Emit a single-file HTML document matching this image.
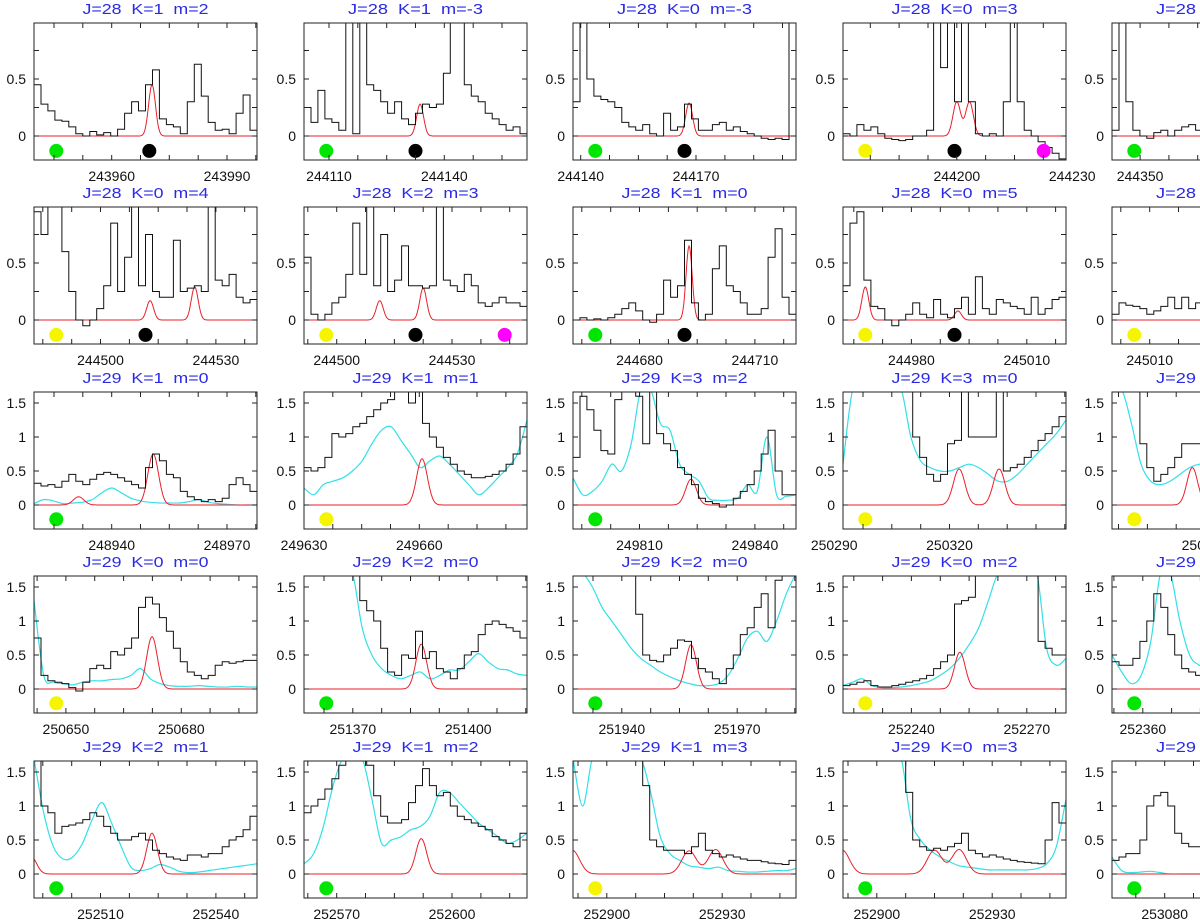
<!DOCTYPE html>
<html><head><meta charset="utf-8"><title>Spectra grid</title>
<style>
html,body{margin:0;padding:0;background:#fff;}
svg{display:block;font-family:"Liberation Sans",sans-serif;}
</style></head>
<body>
<svg id="chart" width="1200" height="922" viewBox="0 0 1200 922"></svg>
<script>
const titles=["J=28  K=1  m=2","J=28  K=1  m=-3","J=28  K=0  m=-3","J=28  K=0  m=3","J=28  K=0  m=-4",
"J=28  K=0  m=4","J=28  K=2  m=3","J=28  K=1  m=0","J=28  K=0  m=5","J=28  K=2  m=-3",
"J=29  K=1  m=0","J=29  K=1  m=1","J=29  K=3  m=2","J=29  K=3  m=0","J=29  K=3  m=-2",
"J=29  K=0  m=0","J=29  K=2  m=0","J=29  K=2  m=0","J=29  K=0  m=2","J=29  K=1  m=-1",
"J=29  K=2  m=1","J=29  K=1  m=2","J=29  K=1  m=3","J=29  K=0  m=3","J=29  K=0  m=-3"];
const xMin=[243939.8,244103.5,244138.0,244170.4,244342.7,
244482.7,244491.5,244662.7,244962.2,245000.2,
248919.8,249630.0,249792.7,250292.3,250325.8,
250641.7,251357.3,251927.3,252222.2,252352.0,
252492.7,252561.5,252891.2,252891.2,253066.3];
const span=58;
const xLabels=[[243960,243990],[244110,244140],[244140,244170],[244200,244230],[244350],
[244500,244530],[244500,244530],[244680,244710],[244980,245010],[245010],
[248940,248970],[249630,249660],[249810,249840],[250290,250320],[250350],
[250650,250680],[251370,251400],[251940,251970],[252240,252270],[252360],
[252510,252540],[252570,252600],[252900,252930],[252900,252930],[253080]];
const blackVals=[
[0.45,0.28,0.22,0.14,0.13,0.08,0.02,0.0,0.04,0.01,0.03,0.0,0.06,0.2,0.3,0.22,0.45,0.58,0.15,0.1,0.08,0.02,0.3,0.63,0.35,0.12,0.05,0.06,0.02,0.2,0.36,0.05],
[0.25,0.12,0.4,0.15,0.12,0.05,1.2,0.02,1.2,0.45,0.4,0.3,0.2,0.3,0.15,0.1,0.2,0.28,0.25,0.28,0.55,1.2,1.2,0.45,0.35,0.3,0.2,0.15,0.1,0.05,0.08,0.02],
[0.3,1.2,0.5,0.35,0.32,0.3,0.25,0.12,0.08,0.05,0.1,0.02,0.0,0.2,0.05,0.08,0.28,0.15,0.05,0.05,0.1,0.12,0.05,0.08,0.04,0.02,0.0,-0.02,-0.03,-0.02,-0.03,1.0],
[0.02,0.0,0.1,0.05,0.08,0.02,-0.02,-0.03,-0.04,-0.03,0.0,0.0,0.05,1.2,0.6,1.2,0.3,1.2,0.3,0.02,0.0,0.02,0.0,0.3,1.2,0.3,0.05,0.0,-0.05,-0.1,-0.15,-0.2],
[0.05,1.2,0.3,0.05,0.0,-0.02,0.03,0.05,0.0,0.05,0.08,0.1,0.05,0.1,0.08,0.12,0.1,0.08,0.1,0.12,0.1,0.08,0.1,0.12,0.1,0.08,0.1,0.12,0.1,0.08,0.1,0.1],
[0.95,0.75,1.2,1.2,0.6,0.25,0.0,-0.05,0.0,0.1,0.3,0.85,0.25,0.55,1.2,0.3,0.75,0.25,0.2,0.2,0.7,0.25,0.28,0.3,0.25,1.2,0.35,0.3,0.4,0.2,0.15,0.18],
[0.55,0.05,0.0,0.05,0.15,0.2,0.4,0.85,0.4,1.2,0.3,0.75,0.25,0.35,0.65,0.3,0.3,0.28,0.3,1.2,0.35,0.3,0.25,0.4,0.3,0.15,0.12,0.15,0.2,0.15,0.15,0.12],
[0.0,0.02,0.0,0.01,0.0,0.02,0.05,0.1,0.15,0.08,0.0,-0.02,0.05,0.35,0.2,0.3,0.7,0.15,0.0,0.05,0.45,0.65,0.3,0.25,0.15,0.05,0.05,0.1,0.55,0.8,0.2,0.05],
[0.3,0.85,0.95,0.35,0.12,0.1,0.0,-0.05,0.0,0.05,0.15,0.05,0.02,0.18,0.05,0.02,0.1,0.2,0.05,0.38,0.1,0.05,0.18,0.15,0.12,0.1,0.05,0.2,0.05,0.1,0.18,0.2],
[0.05,0.15,0.13,0.12,0.1,0.05,0.08,0.12,0.2,0.1,0.2,0.1,0.15,0.1,0.12,0.1,0.15,0.1,0.12,0.1,0.1,0.12,0.1,0.1,0.12,0.1,0.1,0.12,0.1,0.1,0.1,0.1],
[0.32,0.28,0.3,0.26,0.35,0.45,0.35,0.3,0.38,0.45,0.48,0.45,0.4,0.35,0.3,0.25,0.55,0.75,0.65,0.45,0.4,0.2,0.12,0.08,0.05,0.08,0.05,0.1,0.3,0.4,0.3,0.2],
[0.55,0.5,0.55,0.7,1.05,1.0,1.05,1.15,1.2,1.3,1.4,1.5,1.55,1.7,1.7,1.5,1.7,1.2,1.0,0.85,0.7,0.6,0.5,0.45,0.4,0.4,0.42,0.45,0.5,0.6,0.75,1.15],
[0.7,1.6,1.4,1.1,0.8,0.75,1.55,1.7,1.7,1.6,0.9,1.7,1.05,0.9,0.8,0.55,0.45,0.3,0.1,0.05,0.02,-0.03,0.0,0.1,0.2,0.3,0.5,0.75,1.1,0.5,0.15,0.15],
[1.7,1.7,1.7,1.7,1.7,1.7,1.7,1.7,1.7,1.7,1.0,0.7,0.45,0.35,0.45,0.9,0.95,1.7,1.0,1.0,1.0,1.0,1.7,0.5,0.55,0.6,0.7,0.8,0.95,1.05,1.15,1.3],
[1.7,1.7,1.7,1.7,0.9,0.55,0.35,0.45,0.55,0.7,0.9,0.9,0.9,0.9,0.9,0.9,0.9,0.9,0.9,0.9,0.9,0.9,0.9,0.9,0.9,0.9,0.9,0.9,0.9,0.9,0.9,0.9],
[0.75,0.2,0.12,0.1,0.08,0.02,-0.03,0.1,0.3,0.35,0.3,0.55,0.5,0.6,0.75,1.2,1.35,1.25,1.05,0.85,0.6,0.4,0.25,0.2,0.15,0.2,0.35,0.4,0.38,0.4,0.42,0.42],
[1.7,1.7,1.7,1.7,1.7,1.7,1.7,1.7,1.3,1.15,1.0,0.6,0.25,0.2,0.5,0.45,0.85,0.45,0.55,0.3,0.25,0.15,0.3,0.5,0.55,0.8,0.95,1.0,0.95,0.9,0.85,0.75],
[1.7,1.7,1.7,1.7,1.7,1.7,1.7,1.7,1.7,1.1,0.5,0.42,0.4,0.5,0.6,0.72,0.7,0.45,0.3,0.25,0.15,0.08,0.3,0.5,0.8,0.9,1.2,1.4,0.9,1.6,1.7,1.7],
[0.05,0.07,0.1,0.12,0.05,0.03,0.03,0.05,0.07,0.1,0.12,0.15,0.2,0.3,0.4,0.5,1.25,1.3,1.35,1.7,1.7,1.7,1.7,1.7,1.7,1.7,1.7,1.7,0.7,0.6,0.5,0.5],
[0.4,0.35,0.35,0.45,0.7,1.0,1.4,1.2,0.8,0.5,0.3,0.25,0.2,0.2,0.2,0.2,0.2,0.2,0.2,0.2,0.2,0.2,0.2,0.2,0.2,0.2,0.2,0.2,0.2,0.2,0.2,0.2],
[1.7,1.0,0.9,0.6,0.7,0.72,0.75,0.8,0.9,0.85,0.7,0.6,0.5,0.5,0.55,0.6,0.5,0.35,0.3,0.25,0.22,0.2,0.28,0.28,0.25,0.3,0.3,0.4,0.5,0.55,0.65,0.85],
[0.9,1.0,1.1,1.25,1.4,1.6,1.7,1.7,1.7,1.6,1.15,0.85,0.75,0.75,0.8,1.05,1.3,1.55,1.3,1.15,1.2,1.0,0.85,0.8,0.75,0.7,0.65,0.55,0.5,0.45,0.4,0.6],
[1.7,1.7,1.7,1.7,1.7,1.7,1.7,1.7,1.7,1.7,1.3,0.5,0.4,0.35,0.35,0.35,0.3,0.4,0.6,0.35,0.3,0.25,0.28,0.25,0.22,0.2,0.2,0.18,0.16,0.15,0.14,0.2],
[1.7,1.7,1.7,1.7,1.7,1.7,1.7,1.7,1.7,1.2,0.5,0.4,0.35,0.38,0.35,0.4,0.45,0.6,0.35,0.3,0.25,0.28,0.25,0.22,0.2,0.18,0.17,0.16,0.15,0.5,1.05,0.75],
[0.2,0.25,0.3,0.3,0.5,1.0,1.15,1.2,1.0,0.6,0.45,0.4,0.4,0.4,0.4,0.4,0.4,0.4,0.4,0.4,0.4,0.4,0.4,0.4,0.4,0.4,0.4,0.4,0.4,0.4,0.4,0.4]
];
const redCenters=[[243970.5],[244133.7],[244168.2],[244200.0,244203.3],[],
[244512.9,244524.5],[244511.2,244522.5],[244692.9],[244968.0,244992.1],[],
[248931.4,248950.8],[249660.7],[249823.4],[250322.5,250332.9],[250346.7],
[250672.4],[251387.8],[251958.0],[252252.6],[],
[252492.0,252523.4],[252592.0],[252891.0,252921.4,252928.3],[252891.0,252915.0,252921.4],[]];
const redAmps=[[0.45],[0.28],[0.29],[0.3,0.3],[],
[0.17,0.29],[0.17,0.28],[0.65],[0.29,0.08],[],
[0.12,0.75],[0.68],[0.38],[0.53,0.53],[0.55],
[0.77],[0.66],[0.65],[0.54],[],
[0.25,0.6],[0.52],[0.35,0.34,0.36],[0.35,0.35,0.36],[]];
const redSigma=[0.9,0.9,0.9,1.0,0.9, 0.9,0.9,0.8,0.9,0.9, 1.4,1.4,1.4,1.5,1.4, 1.4,1.4,1.4,1.4,1.4, 1.4,1.4,1.9,1.9,1.4];
const cyanVals=[null,null,null,null,null,null,null,null,null,null,
[0.02,0.08,0.06,0.02,0.03,0.04,0.08,0.18,0.25,0.18,0.1,0.06,0.04,0.03,0.03,0.03,0.05,0.08,0.04,0.02,0.01,0.0,0.0,0.0],
[0.25,0.15,0.3,0.35,0.4,0.5,0.65,0.9,1.1,1.15,0.95,0.75,0.55,0.65,0.72,0.6,0.45,0.3,0.15,0.25,0.4,0.55,0.75,1.25],
[0.4,0.15,0.2,0.35,0.6,0.5,0.9,1.7,1.7,1.2,1.1,0.6,0.45,0.35,0.1,0.07,0.07,0.1,0.3,0.2,1.0,0.15,0.13,0.15],
[0.6,1.7,1.7,1.7,1.7,1.7,1.7,1.0,0.65,0.55,0.5,0.5,0.55,0.6,0.55,0.45,0.35,0.35,0.45,0.6,0.75,0.9,1.05,1.25],
[1.7,1.7,1.2,0.6,0.35,0.3,0.35,0.45,0.55,0.6,0.6,0.6,0.6,0.6,0.6,0.6,0.6,0.6,0.6,0.6,0.6,0.6,0.6,0.6],
[1.3,0.2,0.1,0.08,0.06,0.1,0.12,0.12,0.14,0.15,0.2,0.3,0.15,0.08,0.05,0.04,0.04,0.05,0.04,0.03,0.03,0.04,0.03,0.03],
[1.7,1.7,1.7,1.7,1.7,1.7,0.9,0.5,0.3,0.2,0.15,0.2,0.25,0.15,0.2,0.28,0.28,0.4,0.52,0.4,0.3,0.28,0.22,0.2],
[1.7,1.7,1.5,1.2,1.0,0.8,0.6,0.45,0.35,0.25,0.18,0.12,0.08,0.05,0.05,0.08,0.2,0.45,0.75,0.85,0.7,1.0,1.4,1.7],
[0.05,0.1,0.15,0.05,0.02,0.02,0.03,0.05,0.08,0.12,0.2,0.3,0.45,0.65,0.9,1.3,1.7,1.7,1.7,1.7,1.7,0.6,0.35,0.45],
[0.5,0.25,0.08,0.2,0.7,1.7,1.7,1.0,0.5,0.35,0.3,0.3,0.3,0.3,0.3,0.3,0.3,0.3,0.3,0.3,0.3,0.3,0.3,0.3],
[1.7,0.9,0.4,0.22,0.25,0.45,0.8,1.05,0.75,0.4,0.1,0.05,0.08,0.14,0.1,0.04,0.02,0.03,0.05,0.07,0.09,0.11,0.13,0.15],
[0.15,0.3,0.7,1.3,1.7,1.7,1.7,1.1,0.45,0.5,0.55,0.65,0.7,0.85,1.2,1.2,1.05,0.9,0.75,0.65,0.55,0.45,0.5,0.6],
[1.7,1.0,1.7,1.7,1.7,1.7,1.7,1.7,1.2,0.55,0.3,0.2,0.12,0.1,0.08,0.1,0.05,0.04,0.03,0.03,0.04,0.05,0.05,0.08],
[1.7,1.7,1.7,1.7,1.7,1.7,1.7,0.8,0.5,0.35,0.25,0.18,0.12,0.1,0.08,0.06,0.06,0.06,0.06,0.06,0.08,0.15,0.4,1.1],
[0.25,0.05,0.02,0.03,0.04,0.02,0.0,0.0,0.0,0.0,0.0,0.0,0.0,0.0,0.0,0.0,0.0,0.0,0.0,0.0,0.0,0.0,0.0,0.0]];
const dotFreqs=[[243945.6,243969.8],[244109.3,244132.5],[244143.8,244167.0],[244176.2,244199.4,244222.6],[244348.5],
[244488.5,244511.7],[244497.3,244520.5,244543.7],[244668.5,244691.7],[244968.0,244991.2],[245006.0],
[248925.6],[249635.8],[249798.5],[250298.1],[250331.6],
[250647.5],[251363.1],[251933.1],[252228.0],[252357.8],
[252498.5],[252567.3],[252897.0],[252897.0],[253072.1]];
const dotColors=[["#00e600","#000"],["#00e600","#000"],["#00e600","#000"],["#f5f500","#000","#ff00ff"],["#00e600"],
["#f5f500","#000"],["#f5f500","#000","#ff00ff"],["#00e600","#000"],["#f5f500","#000"],["#f5f500"],
["#00e600"],["#f5f500"],["#00e600"],["#f5f500"],["#f5f500"],
["#f5f500"],["#00e600"],["#00e600"],["#f5f500"],["#00e600"],
["#00e600"],["#00e600"],["#f5f500"],["#00e600"],["#00e600"]];

const NS="http://www.w3.org/2000/svg";
const svg=document.getElementById('chart');
const colLeft=[34,304,573,843,1112], rowTop=[23,207,392,576,761];
const W=223,H=137;
function mk(tag,attrs,parent){const e=document.createElementNS(NS,tag);for(const k in attrs)e.setAttribute(k,attrs[k]);parent.appendChild(e);return e;}

for(let p=0;p<25;p++){
  const r=Math.floor(p/5), c=p%5;
  const L=colLeft[c], T=rowTop[r];
  const big=r>=2;
  const yLo=big?-0.353:-0.21, yHi=big?1.662:0.991;
  const x0=xMin[p], x1=xMin[p]+span;
  const X=v=>L+(v-x0)/(x1-x0)*W;
  const Y=v=>T+H-(v-yLo)/(yHi-yLo)*H;
  const g=mk('g',{},svg);
  
  
  const cp=mk('clipPath',{id:'cp'+p},g);
  mk('rect',{x:L,y:T,width:W,height:H},cp);
  const t=mk('text',{x:L+W/2,y:T-9,'text-anchor':'middle','font-size':'15',fill:'#2a2ae6',textLength:(titles[p].length*9).toString(),lengthAdjust:'spacingAndGlyphs',style:'white-space:pre'},g);
  
  
  t.textContent=titles[p];
  const dg=mk('g',{'clip-path':'url(#cp'+p+')'},g);
  
  
  if(cyanVals[p]){
    const cv=cyanVals[p], n=cv.length-1;
    const P=cv.map((v,k)=>[X(x0+k*span/n),Y(v)]);
    let d='M'+P[0][0].toFixed(1)+' '+P[0][1].toFixed(1);
    for(let k=0;k<n;k++){
      const p0=P[Math.max(0,k-1)],p1=P[k],p2=P[k+1],p3=P[Math.min(n,k+2)];
      const c1=[p1[0]+(p2[0]-p0[0])/6,p1[1]+(p2[1]-p0[1])/6];
      const c2=[p2[0]-(p3[0]-p1[0])/6,p2[1]-(p3[1]-p1[1])/6];
      d+='C'+c1[0].toFixed(1)+' '+c1[1].toFixed(1)+' '+c2[0].toFixed(1)+' '+c2[1].toFixed(1)+' '+p2[0].toFixed(1)+' '+p2[1].toFixed(1);
    }
    const cl=mk('path',{d:d,fill:'none',stroke:'#33e0e6','stroke-width':'1.2','stroke-linejoin':'round'},dg);
    
    
  }
  {
    let d='';
    for(let k=0;k<=300;k++){
      const f=x0+k*span/300;
      let v=0;
      redCenters[p].forEach((cen,j)=>{v+=redAmps[p][j]*Math.exp(-(f-cen)*(f-cen)/(2*redSigma[p]*redSigma[p]));});
      d+=(k?'L':'M')+X(f).toFixed(1)+' '+Y(v).toFixed(1);
    }
    const rl=mk('path',{d:d,fill:'none',stroke:'#e8202a','stroke-width':'1'},dg);
    
    
  }
  {
    const bv=blackVals[p], n=bv.length;
    let d='';
    bv.forEach((v,i)=>{
      const a=X(x0+i*span/n), b=X(x0+(i+1)*span/n), y=Y(v);
      d+=(i?'L':'M')+a.toFixed(1)+' '+y.toFixed(1)+'L'+b.toFixed(1)+' '+y.toFixed(1);
    });
    const bl=mk('path',{d:d,fill:'none',stroke:'#111','stroke-width':'1'},dg);
    
    
  }
  dotFreqs[p].forEach((f,j)=>{
    const dt=mk('circle',{cx:X(f).toFixed(1),cy:Y(big?-0.21:-0.13).toFixed(1),r:7,fill:dotColors[p][j]},g);
    
    
  });
  const fr=mk('rect',{x:L,y:T,width:W,height:H,fill:'none',stroke:'#222','stroke-width':'1'},g);
  
  
  let td='';
  const xs=Math.ceil(x0/7.5)*7.5;
  for(let f=xs;f<=x1;f+=7.5){const xx=X(f).toFixed(1);td+='M'+xx+' '+(T+H)+'v-5M'+xx+' '+T+'v5';}
  const ystep=big?0.5:0.25;
  for(let v=Math.ceil(yLo/ystep)*ystep;v<=yHi;v+=ystep){const yy=Y(v).toFixed(1);td+='M'+L+' '+yy+'h5M'+(L+W)+' '+yy+'h-5';}
  const tk=mk('path',{d:td,stroke:'#222','stroke-width':'1',fill:'none'},g);
  
  
  const yl=big?[0,0.5,1,1.5]:[0,0.5];
  yl.forEach(v=>{
    const lt=mk('text',{x:L-8,y:(Y(v)+5).toFixed(1),'text-anchor':'end','font-size':'14',fill:'#111'},g);
    
    
    lt.textContent=String(v);
  });
  xLabels[p].forEach(f=>{
    const lt=mk('text',{x:X(f).toFixed(1),y:T+H+21,'text-anchor':'middle','font-size':'14',fill:'#111'},g);
    
    
    lt.textContent=String(f);
  });
}
</script>
</body></html>
